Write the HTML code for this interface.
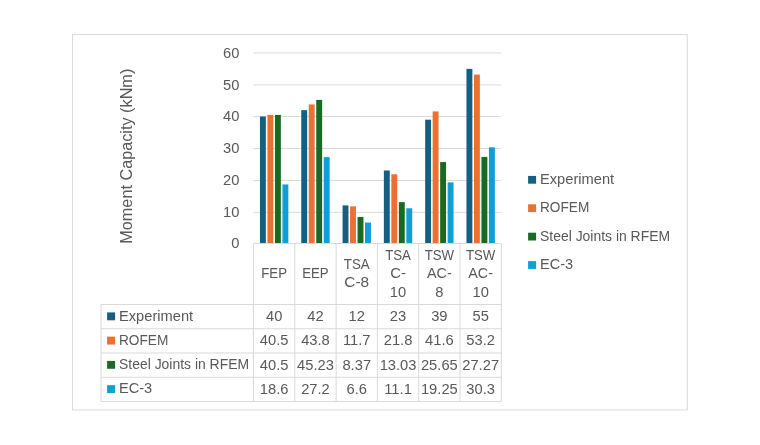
<!DOCTYPE html>
<html lang="en"><head><meta charset="utf-8"><title>Moment Capacity chart</title>
<style>html,body{margin:0;padding:0;background:#fff;}body{width:760px;height:445px;overflow:hidden;}</style></head>
<body>
<svg width="760" height="445" viewBox="0 0 760 445" style="display:block">
<rect x="0" y="0" width="760" height="445" fill="#fff"/>
<rect x="72.5" y="34.5" width="614.8" height="375.4" fill="#fff" stroke="#d9d9d9" stroke-width="1"/>
<g stroke="#d9d9d9" stroke-width="1" fill="none">
<line x1="253.5" y1="212.30" x2="501.3" y2="212.30"/>
<line x1="253.5" y1="180.50" x2="501.3" y2="180.50"/>
<line x1="253.5" y1="148.50" x2="501.3" y2="148.50"/>
<line x1="253.5" y1="116.50" x2="501.3" y2="116.50"/>
<line x1="253.5" y1="84.90" x2="501.3" y2="84.90"/>
<line x1="253.5" y1="52.95" x2="501.3" y2="52.95"/>
</g>
<rect x="259.96" y="116.50" width="5.90" height="127.00" fill="#156082"/>
<rect x="267.45" y="114.91" width="5.90" height="128.59" fill="#e97132"/>
<rect x="274.95" y="114.91" width="5.90" height="128.59" fill="#196b24"/>
<rect x="282.44" y="184.44" width="5.90" height="59.05" fill="#0f9ed5"/>
<rect x="301.26" y="110.15" width="5.90" height="133.35" fill="#156082"/>
<rect x="308.75" y="104.44" width="5.90" height="139.06" fill="#e97132"/>
<rect x="316.25" y="99.89" width="5.90" height="143.61" fill="#196b24"/>
<rect x="323.74" y="157.14" width="5.90" height="86.36" fill="#0f9ed5"/>
<rect x="342.56" y="205.40" width="5.90" height="38.10" fill="#156082"/>
<rect x="350.05" y="206.35" width="5.90" height="37.15" fill="#e97132"/>
<rect x="357.55" y="216.93" width="5.90" height="26.57" fill="#196b24"/>
<rect x="365.04" y="222.55" width="5.90" height="20.95" fill="#0f9ed5"/>
<rect x="383.86" y="170.48" width="5.90" height="73.02" fill="#156082"/>
<rect x="391.35" y="174.28" width="5.90" height="69.22" fill="#e97132"/>
<rect x="398.85" y="202.13" width="5.90" height="41.37" fill="#196b24"/>
<rect x="406.34" y="208.26" width="5.90" height="35.24" fill="#0f9ed5"/>
<rect x="425.16" y="119.68" width="5.90" height="123.82" fill="#156082"/>
<rect x="432.65" y="111.42" width="5.90" height="132.08" fill="#e97132"/>
<rect x="440.15" y="162.06" width="5.90" height="81.44" fill="#196b24"/>
<rect x="447.64" y="182.38" width="5.90" height="61.12" fill="#0f9ed5"/>
<rect x="466.46" y="68.88" width="5.90" height="174.62" fill="#156082"/>
<rect x="473.95" y="74.59" width="5.90" height="168.91" fill="#e97132"/>
<rect x="481.45" y="156.92" width="5.90" height="86.58" fill="#196b24"/>
<rect x="488.94" y="147.30" width="5.90" height="96.20" fill="#0f9ed5"/>
<g stroke="#d9d9d9" stroke-width="1" fill="none">
<line x1="253.5" y1="243.5" x2="501.3" y2="243.5"/>
<line x1="253.50" y1="243.5" x2="253.50" y2="401.5"/>
<line x1="294.80" y1="243.5" x2="294.80" y2="401.5"/>
<line x1="336.10" y1="243.5" x2="336.10" y2="401.5"/>
<line x1="377.40" y1="243.5" x2="377.40" y2="401.5"/>
<line x1="418.70" y1="243.5" x2="418.70" y2="401.5"/>
<line x1="460.00" y1="243.5" x2="460.00" y2="401.5"/>
<line x1="501.30" y1="243.5" x2="501.30" y2="401.5"/>
<line x1="101" y1="304.5" x2="501.3" y2="304.5"/>
<line x1="101" y1="328.75" x2="501.3" y2="328.75"/>
<line x1="101" y1="353.0" x2="501.3" y2="353.0"/>
<line x1="101" y1="377.25" x2="501.3" y2="377.25"/>
<line x1="101" y1="401.5" x2="501.3" y2="401.5"/>
<line x1="101" y1="304.5" x2="101" y2="401.5"/>
</g>
<g font-family="'Liberation Sans', Arial, sans-serif" fill="#595959">
<text transform="translate(239.50,248.10) scale(1.0681,1)" text-anchor="end" font-size="13.8">0</text>
<text transform="translate(239.50,216.90) scale(1.0681,1)" text-anchor="end" font-size="13.8">10</text>
<text transform="translate(239.50,185.10) scale(1.0681,1)" text-anchor="end" font-size="13.8">20</text>
<text transform="translate(239.50,153.10) scale(1.0681,1)" text-anchor="end" font-size="13.8">30</text>
<text transform="translate(239.50,121.10) scale(1.0681,1)" text-anchor="end" font-size="13.8">40</text>
<text transform="translate(239.50,89.50) scale(1.0681,1)" text-anchor="end" font-size="13.8">50</text>
<text transform="translate(239.50,57.55) scale(1.0681,1)" text-anchor="end" font-size="13.8">60</text>
<text transform="translate(274.15,278.20) scale(0.9613,1)" text-anchor="middle" font-size="13.8">FEP</text>
<text transform="translate(315.45,278.20) scale(0.9613,1)" text-anchor="middle" font-size="13.8">EEP</text>
<text transform="translate(356.75,269.00) scale(0.9613,1)" text-anchor="middle" font-size="13.8">TSA</text>
<text transform="translate(356.75,287.40) scale(1.1167,1)" text-anchor="middle" font-size="13.8">C-8</text>
<text transform="translate(398.05,259.80) scale(0.9613,1)" text-anchor="middle" font-size="13.8">TSA</text>
<text transform="translate(398.05,278.20) scale(1.0875,1)" text-anchor="middle" font-size="13.8">C-</text>
<text transform="translate(398.05,296.60) scale(1.0681,1)" text-anchor="middle" font-size="13.8">10</text>
<text transform="translate(439.35,259.80) scale(0.9613,1)" text-anchor="middle" font-size="13.8">TSW</text>
<text transform="translate(439.35,278.20) scale(1.039,1)" text-anchor="middle" font-size="13.8">AC-</text>
<text transform="translate(439.35,296.60) scale(1.0681,1)" text-anchor="middle" font-size="13.8">8</text>
<text transform="translate(480.65,259.80) scale(0.9613,1)" text-anchor="middle" font-size="13.8">TSW</text>
<text transform="translate(480.65,278.20) scale(1.039,1)" text-anchor="middle" font-size="13.8">AC-</text>
<text transform="translate(480.65,296.60) scale(1.0681,1)" text-anchor="middle" font-size="13.8">10</text>
<rect x="107.1" y="312.40" width="8" height="7.9" fill="#156082"/>
<text transform="translate(119.00,320.70) scale(1.0642,1)" text-anchor="start" font-size="13.8">Experiment</text>
<text transform="translate(274.15,321.10) scale(1.0681,1)" text-anchor="middle" font-size="13.8">40</text>
<text transform="translate(315.45,321.10) scale(1.0681,1)" text-anchor="middle" font-size="13.8">42</text>
<text transform="translate(356.75,321.10) scale(1.0681,1)" text-anchor="middle" font-size="13.8">12</text>
<text transform="translate(398.05,321.10) scale(1.0681,1)" text-anchor="middle" font-size="13.8">23</text>
<text transform="translate(439.35,321.10) scale(1.0681,1)" text-anchor="middle" font-size="13.8">39</text>
<text transform="translate(480.65,321.10) scale(1.0681,1)" text-anchor="middle" font-size="13.8">55</text>
<rect x="107.1" y="336.65" width="8" height="7.9" fill="#e97132"/>
<text transform="translate(119.00,344.95) scale(0.9895,1)" text-anchor="start" font-size="13.8">ROFEM</text>
<text transform="translate(274.15,345.35) scale(1.0681,1)" text-anchor="middle" font-size="13.8">40.5</text>
<text transform="translate(315.45,345.35) scale(1.0681,1)" text-anchor="middle" font-size="13.8">43.8</text>
<text transform="translate(356.75,345.35) scale(1.0681,1)" text-anchor="middle" font-size="13.8">11.7</text>
<text transform="translate(398.05,345.35) scale(1.0681,1)" text-anchor="middle" font-size="13.8">21.8</text>
<text transform="translate(439.35,345.35) scale(1.0681,1)" text-anchor="middle" font-size="13.8">41.6</text>
<text transform="translate(480.65,345.35) scale(1.0681,1)" text-anchor="middle" font-size="13.8">53.2</text>
<rect x="107.1" y="360.90" width="8" height="7.9" fill="#196b24"/>
<text transform="translate(119.00,369.20) scale(1.0108,1)" text-anchor="start" font-size="13.8">Steel Joints in RFEM</text>
<text transform="translate(274.15,369.60) scale(1.0681,1)" text-anchor="middle" font-size="13.8">40.5</text>
<text transform="translate(315.45,369.60) scale(1.0681,1)" text-anchor="middle" font-size="13.8">45.23</text>
<text transform="translate(356.75,369.60) scale(1.0681,1)" text-anchor="middle" font-size="13.8">8.37</text>
<text transform="translate(398.05,369.60) scale(1.0681,1)" text-anchor="middle" font-size="13.8">13.03</text>
<text transform="translate(439.35,369.60) scale(1.0681,1)" text-anchor="middle" font-size="13.8">25.65</text>
<text transform="translate(480.65,369.60) scale(1.0681,1)" text-anchor="middle" font-size="13.8">27.27</text>
<rect x="107.1" y="385.15" width="8" height="7.9" fill="#0f9ed5"/>
<text transform="translate(119.00,393.45) scale(1.0574,1)" text-anchor="start" font-size="13.8">EC-3</text>
<text transform="translate(274.15,393.85) scale(1.0681,1)" text-anchor="middle" font-size="13.8">18.6</text>
<text transform="translate(315.45,393.85) scale(1.0681,1)" text-anchor="middle" font-size="13.8">27.2</text>
<text transform="translate(356.75,393.85) scale(1.0681,1)" text-anchor="middle" font-size="13.8">6.6</text>
<text transform="translate(398.05,393.85) scale(1.0681,1)" text-anchor="middle" font-size="13.8">11.1</text>
<text transform="translate(439.35,393.85) scale(1.0681,1)" text-anchor="middle" font-size="13.8">19.25</text>
<text transform="translate(480.65,393.85) scale(1.0681,1)" text-anchor="middle" font-size="13.8">30.3</text>
<rect x="528.1" y="175.90" width="8" height="7.8" fill="#156082"/>
<text transform="translate(540.00,183.70) scale(1.0642,1)" text-anchor="start" font-size="13.8">Experiment</text>
<rect x="528.1" y="204.30" width="8" height="7.8" fill="#e97132"/>
<text transform="translate(540.00,212.10) scale(0.9895,1)" text-anchor="start" font-size="13.8">ROFEM</text>
<rect x="528.1" y="232.70" width="8" height="7.8" fill="#196b24"/>
<text transform="translate(540.00,240.50) scale(1.0108,1)" text-anchor="start" font-size="13.8">Steel Joints in RFEM</text>
<rect x="528.1" y="261.10" width="8" height="7.8" fill="#0f9ed5"/>
<text transform="translate(540.00,268.90) scale(1.0574,1)" text-anchor="start" font-size="13.8">EC-3</text>
<text transform="translate(132.3,156.2) rotate(-90) scale(1.0,1)" text-anchor="middle" font-size="15.8" textLength="175" lengthAdjust="spacingAndGlyphs">Moment Capacity (kNm)</text>
</g>
</svg>
</body></html>
